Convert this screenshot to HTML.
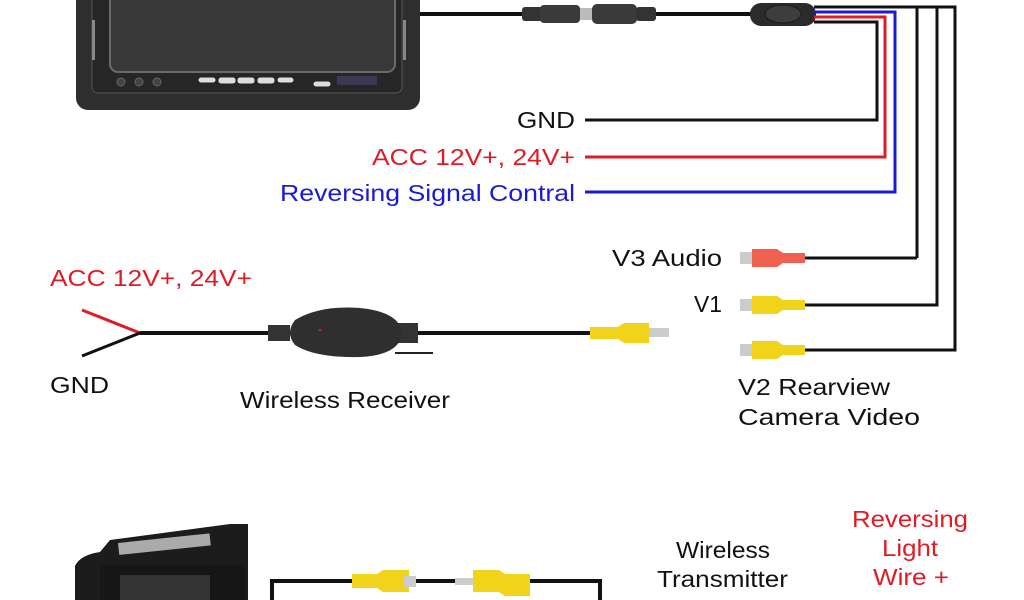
<!DOCTYPE html>
<html><head><meta charset="utf-8"><style>
html,body{margin:0;padding:0;background:#fff;width:1024px;height:600px;overflow:hidden}
svg text{font-family:"Liberation Sans",sans-serif;font-size:23px}
</style></head><body>
<svg width="1024" height="600" viewBox="0 0 1024 600" xmlns="http://www.w3.org/2000/svg">
<!-- monitor -->
<rect x="76" y="-20" width="344" height="130" rx="12" fill="#2e2e2e"/>
<rect x="92" y="-20" width="310" height="113" rx="6" fill="#262626" stroke="#555" stroke-width="1"/>
<rect x="110" y="-20" width="285" height="92" rx="8" fill="#383838" stroke="#6a6a6a" stroke-width="2"/>
<rect x="92" y="20" width="3" height="40" fill="#888"/>
<rect x="403" y="20" width="3" height="40" fill="#888"/>
<g fill="#444" stroke="#666"><circle cx="121" cy="82" r="4"/><circle cx="139" cy="82" r="4"/><circle cx="157" cy="82" r="4"/></g>
<g fill="#ddd" stroke="#222" stroke-width="1">
<rect x="198" y="77" width="18" height="6" rx="3"/><rect x="218" y="77" width="18" height="7" rx="3"/><rect x="237" y="77" width="18" height="7" rx="3"/><rect x="257" y="77" width="18" height="7" rx="3"/><rect x="277" y="77" width="17" height="6" rx="3"/><rect x="313" y="81" width="18" height="6" rx="3"/></g>
<rect x="337" y="76" width="40" height="9" fill="#3a3a55"/>
<!-- main cable -->
<line x1="420" y1="14" x2="760" y2="14" stroke="#111" stroke-width="4"/>
<rect x="522" y="7" width="22" height="14" rx="3" fill="#333"/>
<rect x="540" y="5" width="40" height="18" rx="4" fill="#3a3a3a"/>
<rect x="580" y="8" width="14" height="12" fill="#bbb"/>
<rect x="592" y="4" width="45" height="20" rx="5" fill="#3a3a3a"/>
<rect x="636" y="7" width="20" height="14" rx="3" fill="#333"/>
<!-- splitter -->
<rect x="750" y="3" width="66" height="23" rx="11" fill="#2b2b2b"/>
<ellipse cx="783" cy="14" rx="18" ry="9" fill="#3d3d3d" stroke="#1a1a1a"/>
<g fill="none" stroke-width="3">
<polyline points="814,7 955,7 955,350 805,350" stroke="#111"/>
<line x1="917" y1="7" x2="917" y2="258" stroke="#111"/>
<polyline points="937,7 937,305 805,305" stroke="#111"/>
<line x1="917" y1="258" x2="805" y2="258" stroke="#111"/>
<polyline points="814,12 895,12 895,192 585,192" stroke="#1a1ad6"/>
<polyline points="814,17 885,17 885,157 585,157" stroke="#e01b24"/>
<polyline points="814,22 877,22 877,120 585,120" stroke="#111"/>
</g>
<text x="517" y="128" fill="#111" textLength="58" lengthAdjust="spacingAndGlyphs">GND</text>
<text x="372" y="165" fill="#e01b24" textLength="203" lengthAdjust="spacingAndGlyphs">ACC 12V+, 24V+</text>
<text x="280" y="201" fill="#1a1ad6" textLength="295" lengthAdjust="spacingAndGlyphs">Reversing Signal Contral</text>
<!-- RCA connectors right -->
<g>
<rect x="740" y="252" width="12" height="12" fill="#ccc"/>
<path d="M752,249 h25 l6,4 h22 v10 h-22 l-6,4 h-25z" fill="#f06050"/>
<rect x="740" y="299" width="12" height="12" fill="#ccc"/>
<path d="M752,296 h25 l6,4 h22 v10 h-22 l-6,4 h-25z" fill="#f2d31b"/>
<rect x="740" y="344" width="12" height="12" fill="#ccc"/>
<path d="M752,341 h25 l6,4 h22 v10 h-22 l-6,4 h-25z" fill="#f2d31b"/>
</g>
<text x="612" y="266" fill="#111" textLength="110" lengthAdjust="spacingAndGlyphs">V3 Audio</text>
<text x="694" y="312" fill="#111" textLength="28" lengthAdjust="spacingAndGlyphs">V1</text>
<text x="738" y="395" fill="#111" textLength="152" lengthAdjust="spacingAndGlyphs">V2 Rearview</text>
<text x="738" y="425" fill="#111" textLength="182" lengthAdjust="spacingAndGlyphs">Camera Video</text>
<!-- receiver -->
<line x1="82" y1="310" x2="140" y2="333" stroke="#e01b24" stroke-width="3"/>
<line x1="82" y1="356" x2="140" y2="333" stroke="#111" stroke-width="3"/>
<line x1="140" y1="333" x2="595" y2="333" stroke="#111" stroke-width="4"/>
<rect x="268" y="325" width="22" height="16" fill="#333"/>
<rect x="398" y="323" width="20" height="20" fill="#333"/>
<path d="M295,320 Q320,305 360,308 Q400,312 402,333 Q400,355 360,357 Q315,358 295,345 Q285,333 295,320z" fill="#2f2f2f"/>
<circle cx="320" cy="330" r="1.5" fill="#b22"/>
<line x1="395" y1="353" x2="433" y2="353" stroke="#222" stroke-width="2"/>
<path d="M590,327 h28 l6,-4 h25 v20 h-25 l-6,-4 h-28z" fill="#f2d31b"/>
<rect x="649" y="328" width="20" height="9" fill="#ccc"/>
<text x="50" y="286" fill="#e01b24" textLength="202" lengthAdjust="spacingAndGlyphs">ACC 12V+, 24V+</text>
<text x="50" y="393" fill="#111" textLength="59" lengthAdjust="spacingAndGlyphs">GND</text>
<text x="240" y="408" fill="#111" textLength="210" lengthAdjust="spacingAndGlyphs">Wireless Receiver</text>
<!-- camera -->
<path d="M75,600 L75,566 Q80,555 100,552 L110,540 L230,524 L248,524 L248,600z" fill="#1c1c1c"/>
<rect x="118" y="543" width="92" height="12" fill="#aaa" transform="rotate(-6 118 543)"/>
<rect x="100" y="565" width="145" height="35" fill="#161616"/>
<rect x="120" y="575" width="90" height="25" fill="#333"/>
<!-- transmitter wires -->
<polyline points="272,600 272,581 600,581 600,600" fill="none" stroke="#111" stroke-width="4"/>
<path d="M352,574 h25 l6,-4 h26 v22 h-26 l-6,-4 h-25z" fill="#f2d31b"/>
<rect x="404" y="576" width="12" height="11" fill="#ccc"/>
<path d="M530,574 h-25 l-6,-4 h-26 v22 h26 l6,4 h25z" fill="#f2d31b"/>
<rect x="455" y="578" width="18" height="7" fill="#ccc"/>
<text x="676" y="558" fill="#111" textLength="94" lengthAdjust="spacingAndGlyphs">Wireless</text>
<text x="657" y="587" fill="#111" textLength="131" lengthAdjust="spacingAndGlyphs">Transmitter</text>
<text x="852" y="527" fill="#e01b24" textLength="116" lengthAdjust="spacingAndGlyphs">Reversing</text>
<text x="882" y="556" fill="#e01b24" textLength="56" lengthAdjust="spacingAndGlyphs">Light</text>
<text x="873" y="585" fill="#e01b24" textLength="76" lengthAdjust="spacingAndGlyphs">Wire +</text>
</svg>
</body></html>
